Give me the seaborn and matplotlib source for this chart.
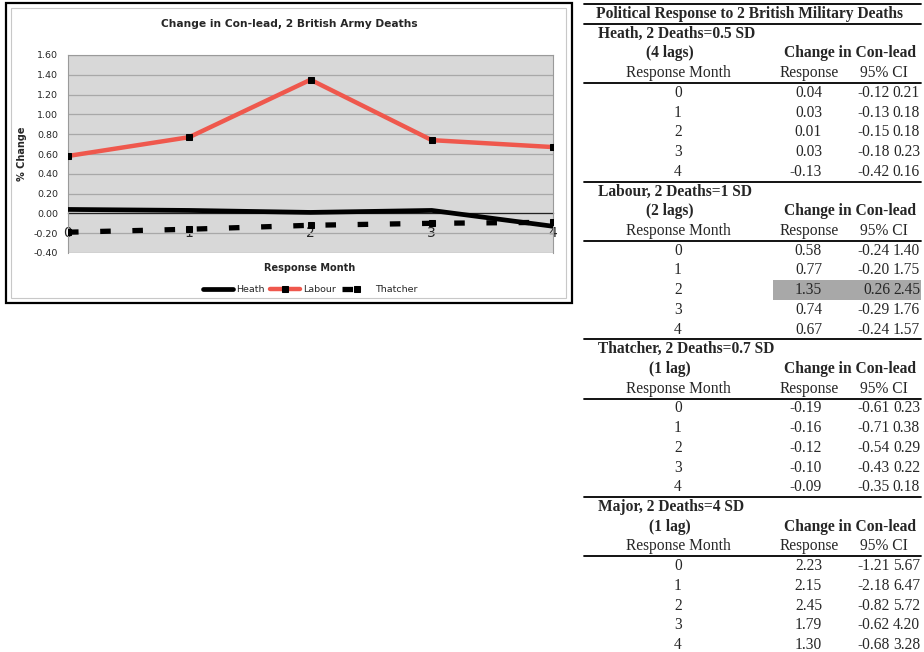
import matplotlib.pyplot as plt
import seaborn as sns
import pandas as pd
from matplotlib.patches import Rectangle
from matplotlib.lines import Line2D

months = [0, 1, 2, 3, 4]
heath = [0.04, 0.03, 0.01, 0.03, -0.13]
labour = [0.58, 0.77, 1.35, 0.74, 0.67]
thatcher = [-0.19, -0.16, -0.12, -0.10, -0.09]
major = [2.23, 2.15, 2.45, 1.79, 1.30]

heath_lo = [-0.12, -0.13, -0.15, -0.18, -0.42]
heath_hi = [0.21, 0.18, 0.18, 0.23, 0.16]
labour_lo = [-0.24, -0.20, 0.26, -0.29, -0.24]
labour_hi = [1.40, 1.75, 2.45, 1.76, 1.57]
thatcher_lo = [-0.61, -0.71, -0.54, -0.43, -0.35]
thatcher_hi = [0.23, 0.38, 0.29, 0.22, 0.18]
major_lo = [-1.21, -2.18, -0.82, -0.62, -0.68]
major_hi = [5.67, 6.47, 5.72, 4.20, 3.28]

group_names = ["Heath, 2 Deaths=0.5 SD", "Labour, 2 Deaths=1 SD",
               "Thatcher, 2 Deaths=0.7 SD", "Major, 2 Deaths=4 SD"]
group_lags = ["(4 lags)", "(2 lags)", "(1 lag)", "(1 lag)"]
yticks = [-0.40, -0.20, 0.00, 0.20, 0.40, 0.60, 0.80, 1.00, 1.20, 1.40, 1.60]

sns.set_style("white")
plt.rcParams['font.family'] = ['DejaVu Sans']

W, H = 924, 652
fig = plt.figure(figsize=(W / 100, H / 100), dpi=100)

def fx(px):
    return px / W

def fy(py):
    return 1 - py / H

# ---- chart ----
fig.add_artist(Rectangle((fx(6), fy(303)), fx(572) - fx(6), fy(3) - fy(303),
                         transform=fig.transFigure, fill=False, ec='black', lw=1.6))
fig.add_artist(Rectangle((fx(11), fy(298)), fx(566) - fx(11), fy(8) - fy(298),
                         transform=fig.transFigure, fill=False, ec='#c8c8c8', lw=0.8))

ax = fig.add_axes([fx(68), fy(253), fx(553) - fx(68), fy(55) - fy(253)])
ax.set_facecolor('#d8d8d8')

df = pd.DataFrame({"month": months, "Heath": heath, "Labour": labour, "Thatcher": thatcher})

sns.lineplot(data=df, x="month", y="Thatcher", ax=ax, color='black', lw=3.8,
             linestyle=(0, (2.0, 4.1)), marker='s', markersize=4,
             markeredgecolor='black', label="Thatcher", zorder=3)
sns.lineplot(data=df, x="month", y="Heath", ax=ax, color='black', lw=3.4,
             label="Heath", zorder=4)
sns.lineplot(data=df, x="month", y="Labour", ax=ax, color='#ef584d', lw=3.2,
             marker='s', markersize=4.5, markerfacecolor='black',
             markeredgecolor='black', label="Labour", zorder=4)

ax.set_xlim(0, 4)
ax.set_ylim(-0.4, 1.6)
ax.set_yticks(yticks)
ax.set_yticklabels([f"{v:.2f}" for v in yticks], fontsize=6.8)
ax.set_xticks(months)
ax.set_xticklabels([str(m) for m in months], fontsize=7.5, fontweight='bold')
ax.grid(axis='y', color='#a8a8a8', lw=0.9)
ax.grid(axis='x', visible=False)
ax.set_axisbelow(True)
ax.spines['bottom'].set_position(('data', 0))
ax.spines['bottom'].set_color('#222222')
ax.spines['bottom'].set_linewidth(0.9)
ax.spines['bottom'].set_zorder(2)
for s in ['left', 'top', 'right']:
    ax.spines[s].set_color('#9a9a9a')
    ax.spines[s].set_linewidth(0.8)
ax.tick_params(axis='x', direction='inout', length=4, width=0.9, color='#222222', pad=7)
ax.tick_params(axis='y', length=0, pad=7)
ax.set_xlabel("")
ax.set_ylabel("% Change", fontsize=7, fontweight='bold', labelpad=5)

fig.text(fx(289), fy(24), "Change in Con-lead, 2 British Army Deaths",
         ha='center', va='center', fontsize=7.7, fontweight='bold')
fig.text(fx(310), fy(268), "Response Month", ha='center', va='center',
         fontsize=7, fontweight='bold')

handles, labels = ax.get_legend_handles_labels()
order = [labels.index(n) for n in ["Heath", "Labour", "Thatcher"]]
ax.legend([handles[i] for i in order], [labels[i] for i in order],
          loc='center', bbox_to_anchor=(fx(310), fy(290)), bbox_transform=fig.transFigure,
          ncol=3, frameon=False, fontsize=6.8, handlelength=3.2, handletextpad=0.3,
          columnspacing=0.6)

# ---- table ----
serif = ['Liberation Serif', 'DejaVu Serif']
fs = 11.2
row_h = 19.72
y_first = 14
L, R = 584, 921

def ry(i):
    return fy(y_first + i * row_h)

def hline(i, lw=1.3):
    y = fy(y_first + (i - 0.5) * row_h)
    fig.add_artist(Line2D([fx(L), fx(R)], [y, y], color='black', lw=lw,
                          transform=fig.transFigure))

hline(0)
fig.text(fx(750), ry(0), "Political Response to 2 British Military Deaths",
         ha='center', va='center', fontsize=fs, fontweight='bold', family=serif)
hline(1)

groups = [(heath, heath_lo, heath_hi), (labour, labour_lo, labour_hi),
          (thatcher, thatcher_lo, thatcher_hi), (major, major_lo, major_hi)]

row = 1
for g, (resp, lo, hi) in enumerate(groups):
    if g > 0:
        hline(row)
    fig.text(fx(598), ry(row), group_names[g], ha='left', va='center',
             fontsize=fs, fontweight='bold', family=serif)
    row += 1
    fig.text(fx(670), ry(row), group_lags[g], ha='center', va='center',
             fontsize=fs, fontweight='bold', family=serif)
    fig.text(fx(850), ry(row), "Change in Con-lead", ha='center', va='center',
             fontsize=fs, fontweight='bold', family=serif)
    row += 1
    fig.text(fx(678), ry(row), "Response Month", ha='center', va='center',
             fontsize=fs, family=serif)
    fig.text(fx(809), ry(row), "Response", ha='center', va='center',
             fontsize=fs, family=serif)
    fig.text(fx(884), ry(row), "95% CI", ha='center', va='center',
             fontsize=fs, family=serif)
    row += 1
    hline(row)
    for k, m in enumerate(months):
        if g == 1 and m == 2:
            ytop = y_first + (row - 0.5) * row_h
            fig.add_artist(Rectangle((fx(773), fy(ytop + row_h)), fx(R) - fx(773),
                                     row_h / H, transform=fig.transFigure,
                                     color='#a8a8a8', lw=0, zorder=0))
        fig.text(fx(678), ry(row), str(m), ha='center', va='center',
                 fontsize=fs, family=serif)
        fig.text(fx(822), ry(row), f"{resp[k]:.2f}", ha='right', va='center',
                 fontsize=fs, family=serif)
        fig.text(fx(890), ry(row), f"{lo[k]:.2f}", ha='right', va='center',
                 fontsize=fs, family=serif)
        fig.text(fx(920), ry(row), f"{hi[k]:.2f}", ha='right', va='center',
                 fontsize=fs, family=serif)
        row += 1

fig.savefig("out.png", dpi=100)
